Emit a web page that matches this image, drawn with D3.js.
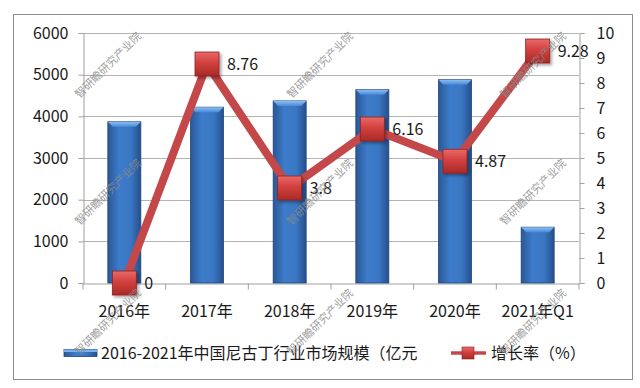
<!DOCTYPE html>
<html>
<head>
<meta charset="utf-8">
<script src="https://cdn.jsdelivr.net/npm/d3@7"></script>
<style>
  body { margin: 0; background: #fff; }
  svg { display: block; font-family: "Noto Sans CJK SC", "Noto Sans", sans-serif; }
</style>
</head>
<body>
<svg width="640" height="388"></svg>
<script>
const width = 640;
const height = 388;
const margin = { top: 33, right: 61, bottom: 105, left: 83 };

// data
const years = ["2016年", "2017年", "2018年", "2019年", "2020年", "2021年Q1"];
const marketSize = [3870, 4220, 4370, 4640, 4880, 1340];
const growthRate = [0, 8.76, 3.8, 6.16, 4.87, 9.28];
const leftTicks = [0, 1000, 2000, 3000, 4000, 5000, 6000];
const rightTicks = [0, 1, 2, 3, 4, 5, 6, 7, 8, 9, 10];
const barName = "2016-2021年中国尼古丁行业市场规模（亿元";
const lineName = "增长率（%）";
const watermark = "智研瞻研究产业院";

const svg = d3.select("svg");
const defs = svg.append("defs");

// bar gradient (3D-ish column)
const bg = defs.append("linearGradient").attr("id", "barGrad")
  .attr("x1", "0%").attr("x2", "100%").attr("y1", "0%").attr("y2", "0%");
bg.append("stop").attr("offset", "0%").attr("stop-color", "#2a5896");
bg.append("stop").attr("offset", "35%").attr("stop-color", "#3d7ccb");
bg.append("stop").attr("offset", "70%").attr("stop-color", "#3a76c2");
bg.append("stop").attr("offset", "100%").attr("stop-color", "#25508c");

const cap = defs.append("linearGradient").attr("id", "capGrad")
  .attr("x1", "0%").attr("x2", "0%").attr("y1", "0%").attr("y2", "100%");
cap.append("stop").attr("offset", "0%").attr("stop-color", "#8cc0f4");
cap.append("stop").attr("offset", "100%").attr("stop-color", "#4a8ad8");

const mg = defs.append("linearGradient").attr("id", "markGrad")
  .attr("x1", "0%").attr("x2", "0%").attr("y1", "0%").attr("y2", "100%");
mg.append("stop").attr("offset", "0%").attr("stop-color", "#e86a68");
mg.append("stop").attr("offset", "45%").attr("stop-color", "#d2403e");
mg.append("stop").attr("offset", "100%").attr("stop-color", "#a92a28");

const shadow = defs.append("filter").attr("id", "shadow")
  .attr("x", "-30%").attr("y", "-30%").attr("width", "170%").attr("height", "170%");
shadow.append("feDropShadow").attr("dx", 2).attr("dy", 2).attr("stdDeviation", 1.5)
  .attr("flood-color", "#000").attr("flood-opacity", 0.35);

// outer frame
svg.append("rect")
  .attr("x", 13.5).attr("y", 14.5).attr("width", 619).attr("height", 365)
  .attr("fill", "none").attr("stroke", "#8c8c8c").attr("stroke-width", 1);

const x = d3.scaleBand()
  .domain(years)
  .range([margin.left, width - margin.right]);

const y = d3.scaleLinear()
  .domain([0, 6000])
  .range([height - margin.bottom, margin.top]);

const y2 = d3.scaleLinear()
  .domain([0, 10])
  .range([height - margin.bottom, margin.top]);

// gridlines
svg.append("g")
  .selectAll("line")
  .data(leftTicks.slice(1))
  .join("line")
  .attr("x1", margin.left).attr("x2", width - margin.right)
  .attr("y1", d => Math.round(y(d)) + 0.5).attr("y2", d => Math.round(y(d)) + 0.5)
  .attr("stroke", "#b4b4b4");

// left axis
const yAxis = svg.append("g")
  .attr("transform", `translate(${margin.left + 0.5},0)`)
  .call(d3.axisLeft(y).tickValues(leftTicks).tickFormat(d3.format("d")).tickSize(5).tickPadding(10));

// right axis
const y2Axis = svg.append("g")
  .attr("transform", `translate(${width - margin.right + 0.5},0)`)
  .call(d3.axisRight(y2).tickValues(rightTicks).tickFormat(d3.format("d")).tickSize(5).tickPadding(12));

// bottom axis with ticks between categories
const xAxis = svg.append("g")
  .attr("transform", `translate(0,${height - margin.bottom + 0.5})`)
  .call(d3.axisBottom(x).tickSize(0).tickPadding(22));

xAxis.selectAll(".boundary")
  .data(d3.range(years.length + 1))
  .join("line")
  .attr("class", "boundary")
  .attr("x1", i => margin.left + i * x.step())
  .attr("x2", i => margin.left + i * x.step())
  .attr("y1", 0).attr("y2", 6)
  .attr("stroke", "#a0a0a0");

[yAxis, y2Axis, xAxis].forEach(g => {
  g.select(".domain").attr("stroke", "#a0a0a0");
  g.selectAll(".tick line").attr("stroke", "#a0a0a0");
  g.selectAll("text").attr("font-size", 16).attr("fill", "#1a1a1a")
    .attr("font-family", "'Noto Sans CJK SC', sans-serif");
});

// bars
const barW = 33;
const bars = svg.append("g")
  .selectAll("g")
  .data(years.map((d, i) => ({ year: d, value: marketSize[i] })))
  .join("g");

bars.append("rect")
  .attr("x", d => x(d.year) + x.bandwidth() / 2 - barW / 2)
  .attr("y", d => y(d.value))
  .attr("width", barW)
  .attr("height", d => y(0) - y(d.value))
  .attr("fill", "url(#barGrad)")
  .attr("stroke", "#1f4479")
  .attr("stroke-width", 0.8);

bars.append("path")
  .attr("d", d => {
    const x0 = x(d.year) + x.bandwidth() / 2 - barW / 2;
    const y0 = y(d.value);
    return `M${x0},${y0} L${x0 + barW},${y0} L${x0 + barW - 5},${y0 + 5} L${x0 + 5},${y0 + 5} Z`;
  })
  .attr("fill", "url(#capGrad)");

// growth line
const cx = d => x(d.year) + x.bandwidth() / 2;
const rate = years.map((d, i) => ({ year: d, value: growthRate[i] }));

svg.append("path")
  .datum(rate)
  .attr("fill", "none")
  .attr("stroke", "#c4484a")
  .attr("stroke-width", 8)
  .attr("stroke-linejoin", "miter")
  .attr("d", d3.line().x(cx).y(d => y2(d.value)));

const ms = 24;
svg.append("g")
  .selectAll("rect")
  .data(rate)
  .join("rect")
  .attr("x", d => cx(d) - ms / 2)
  .attr("y", d => y2(d.value) - ms / 2)
  .attr("width", ms).attr("height", ms)
  .attr("fill", "url(#markGrad)")
  .attr("stroke", "#8e2020")
  .attr("stroke-width", 0.8)
  .attr("filter", "url(#shadow)");

svg.append("g")
  .selectAll("text")
  .data(rate)
  .join("text")
  .attr("x", d => cx(d) + 20)
  .attr("y", d => y2(d.value))
  .attr("dy", "0.35em")
  .attr("font-size", 16)
  .attr("fill", "#1a1a1a")
  .text(d => d.value);

// legend
const legend = svg.append("g").attr("transform", "translate(0,353)");
legend.append("rect")
  .attr("x", 64).attr("y", -3.5).attr("width", 33).attr("height", 7)
  .attr("fill", "url(#barGrad)").attr("stroke", "#1f4479").attr("stroke-width", 0.8);
legend.append("rect")
  .attr("x", 64).attr("y", -3.5).attr("width", 33).attr("height", 2.5)
  .attr("fill", "#7ab2ee");
legend.append("text")
  .attr("x", 101).attr("dy", "0.35em")
  .attr("font-size", 16).attr("fill", "#1a1a1a")
  .text(barName);

legend.append("line")
  .attr("x1", 451).attr("x2", 486)
  .attr("stroke", "#c4484a").attr("stroke-width", 3.5);
legend.append("rect")
  .attr("x", 462).attr("y", -6).attr("width", 12).attr("height", 12)
  .attr("fill", "url(#markGrad)").attr("stroke", "#8e2020").attr("stroke-width", 0.6);
legend.append("text")
  .attr("x", 491).attr("dy", "0.35em")
  .attr("font-size", 16).attr("fill", "#1a1a1a")
  .text(lineName);

// watermark grid
const wmX = [108, 320, 533];
const wmY = [65, 192, 322];
svg.append("g")
  .selectAll("text")
  .data(d3.cross(wmX, wmY))
  .join("text")
  .attr("transform", d => `translate(${d[0]},${d[1]}) rotate(-45)`)
  .attr("text-anchor", "middle")
  .attr("dy", "0.35em")
  .attr("font-size", 11)
  .attr("fill", "#8a8a8a")
  .attr("fill-opacity", 0.85)
  .text(watermark);
</script>
</body>
</html>
